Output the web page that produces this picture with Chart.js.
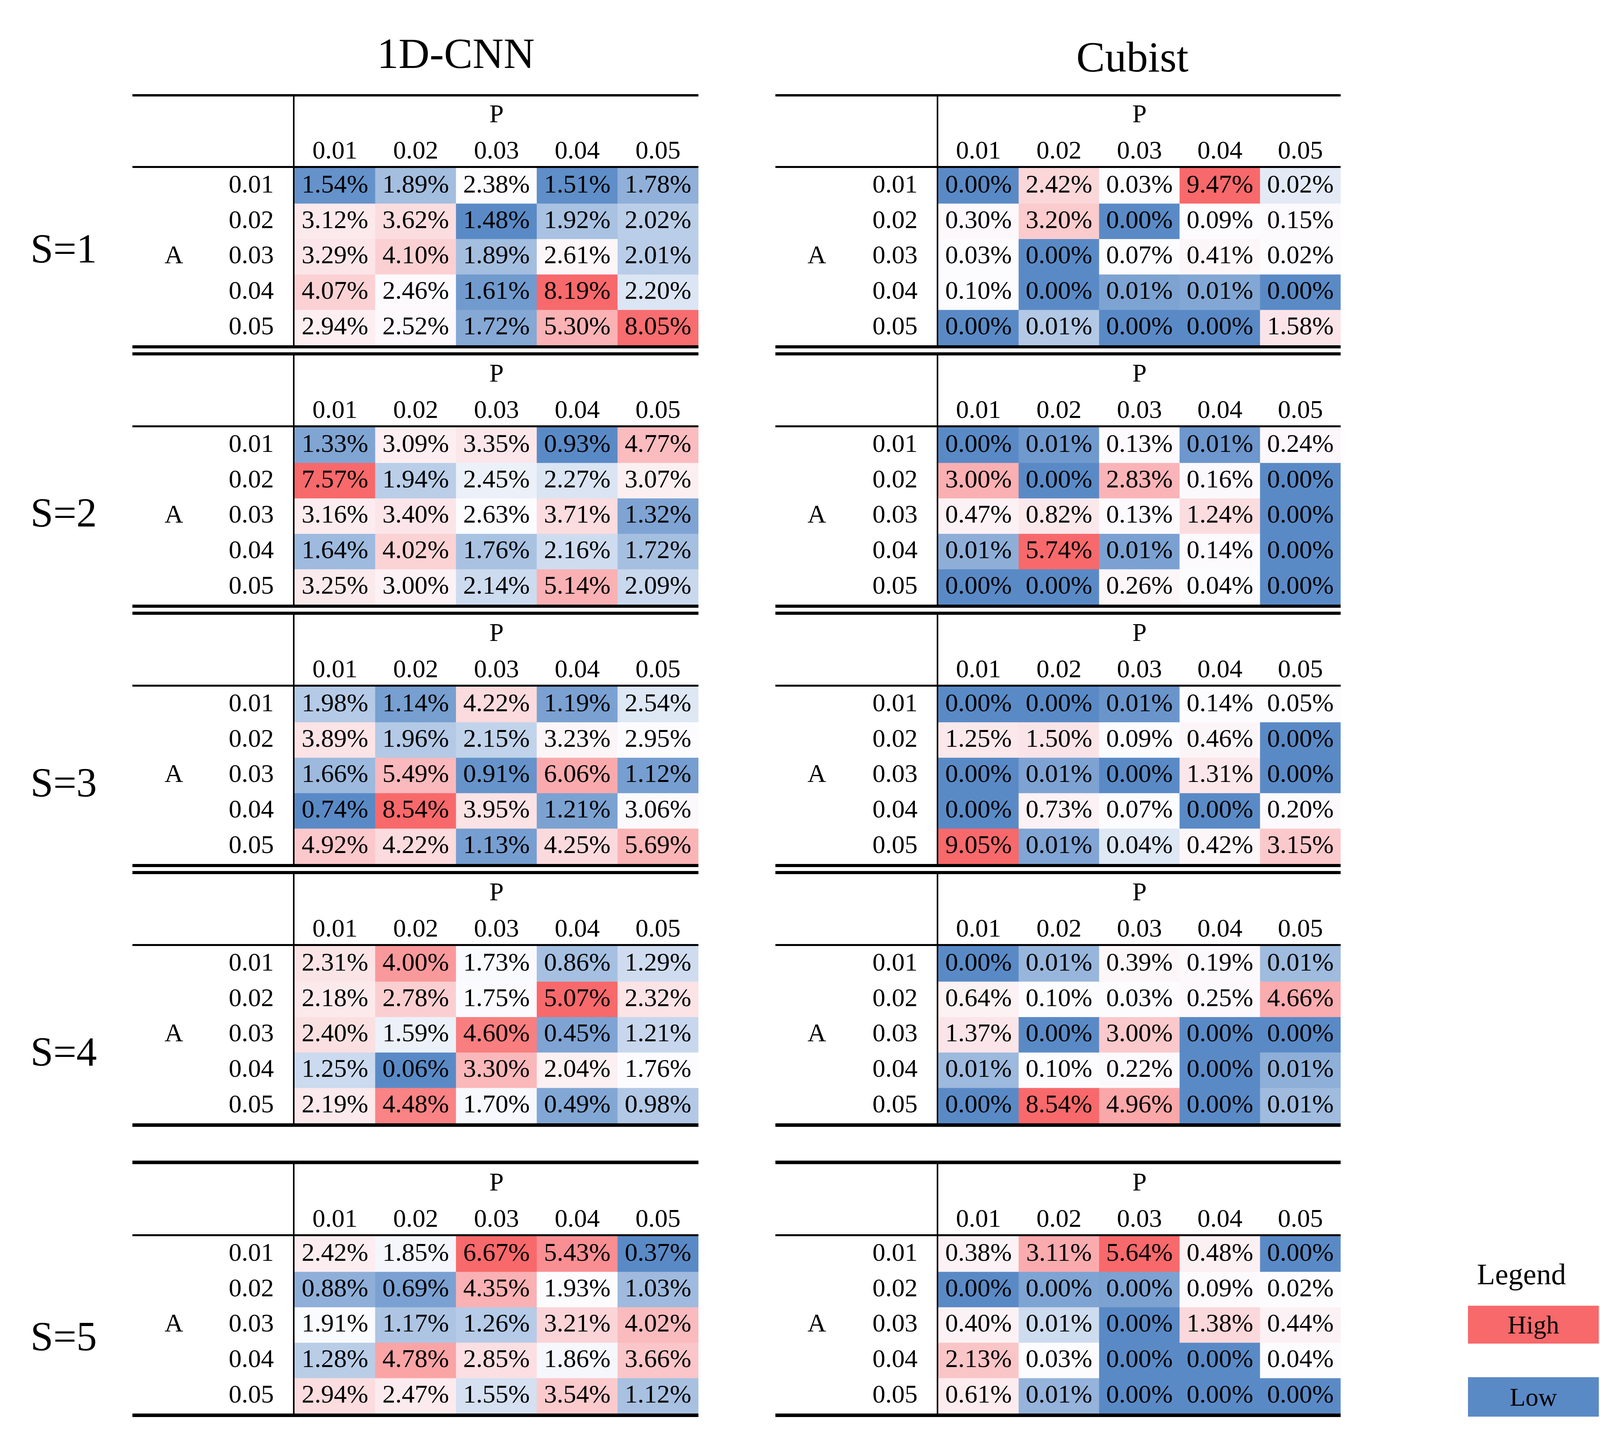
<!DOCTYPE html>
<html>
<head>
<meta charset="utf-8">
<script src="https://cdn.jsdelivr.net/npm/chart.js@4.4.0/dist/chart.umd.min.js"></script>
<style>
body{margin:0;background:#fff;width:4129px;height:3674px;position:relative;overflow:hidden;font-family:"Liberation Serif","Times New Roman",serif;color:#000}
canvas{position:absolute}
.lbl{position:absolute;white-space:nowrap;line-height:1}
.box{position:absolute;display:flex;align-items:center;justify-content:center;font-size:66px;line-height:1}
</style>
</head>
<body>
<script>
// axis ticks
const P_TICKS = ['0.01', '0.02', '0.03', '0.04', '0.05'];
const A_TICKS = ['0.01', '0.02', '0.03', '0.04', '0.05'];
const S_LABELS = ['S=1', 'S=2', 'S=3', 'S=4', 'S=5'];
const MODELS = ['1D-CNN', 'Cubist'];

// 1D-CNN, rows = A, columns = P (values in %)
const cnn_s1 = [[1.54,1.89,2.38,1.51,1.78],[3.12,3.62,1.48,1.92,2.02],[3.29,4.10,1.89,2.61,2.01],[4.07,2.46,1.61,8.19,2.20],[2.94,2.52,1.72,5.30,8.05]];
const cnn_s2 = [[1.33,3.09,3.35,0.93,4.77],[7.57,1.94,2.45,2.27,3.07],[3.16,3.40,2.63,3.71,1.32],[1.64,4.02,1.76,2.16,1.72],[3.25,3.00,2.14,5.14,2.09]];
const cnn_s3 = [[1.98,1.14,4.22,1.19,2.54],[3.89,1.96,2.15,3.23,2.95],[1.66,5.49,0.91,6.06,1.12],[0.74,8.54,3.95,1.21,3.06],[4.92,4.22,1.13,4.25,5.69]];
const cnn_s4 = [[2.31,4.00,1.73,0.86,1.29],[2.18,2.78,1.75,5.07,2.32],[2.40,1.59,4.60,0.45,1.21],[1.25,0.06,3.30,2.04,1.76],[2.19,4.48,1.70,0.49,0.98]];
const cnn_s5 = [[2.42,1.85,6.67,5.43,0.37],[0.88,0.69,4.35,1.93,1.03],[1.91,1.17,1.26,3.21,4.02],[1.28,4.78,2.85,1.86,3.66],[2.94,2.47,1.55,3.54,1.12]];

// Cubist (tiny values estimated beyond the printed 2 decimals from the cell shading)
const cub_s1 = [[0.00,2.42,0.03,9.47,0.0203],[0.30,3.20,0.00,0.09,0.15],[0.03,0.00,0.07,0.41,0.024],[0.10,0.00,0.0052,0.006,0.00],[0.00,0.013,0.00,0.00,1.58]];
const cub_s2 = [[0.00,0.006,0.13,0.0052,0.24],[3.00,0.00,2.83,0.16,0.00],[0.47,0.82,0.13,1.24,0.00],[0.014,5.74,0.009,0.14,0.00],[0.00,0.00,0.26,0.044,0.00]];
const cub_s3 = [[0.00,0.00,0.0052,0.14,0.054],[1.25,1.50,0.09,0.46,0.00],[0.00,0.012,0.00,1.31,0.00],[0.00,0.73,0.07,0.00,0.20],[9.05,0.013,0.044,0.42,3.15]];
const cub_s4 = [[0.00,0.013,0.39,0.19,0.0145],[0.64,0.10,0.034,0.25,4.66],[1.37,0.00,3.00,0.00,0.00],[0.014,0.10,0.22,0.00,0.011],[0.00,8.54,4.96,0.00,0.0145]];
const cub_s5 = [[0.38,3.11,5.64,0.48,0.00],[0.00,0.0036,0.0034,0.09,0.016],[0.40,0.0115,0.00,1.38,0.44],[2.13,0.03,0.00,0.00,0.04],[0.61,0.0058,0.00,0.00,0.00]];

const CNN = [cnn_s1, cnn_s2, cnn_s3, cnn_s4, cnn_s5];
const CUB = [cub_s1, cub_s2, cub_s3, cub_s4, cub_s5];

// layout (page pixels)
const ROWS = [
  {cellTop: 430,  topY: 244,  topW: 6, botW: 8, sY: 636},
  {cellTop: 1094, topY: 906,  topW: 8, botW: 8, sY: 1312},
  {cellTop: 1758, topY: 1570, topW: 8, botW: 8, sY: 2003},
  {cellTop: 2422, topY: 2234, topW: 8, botW: 9, sY: 2692},
  {cellTop: 3165, topY: 2976, topW: 9, botW: 9, sY: 3421}
];
const COLS = [
  {left: 339,  cellLeft: 754,  right: 1788, titleX: 1167, titleY: 137},
  {left: 1985, cellLeft: 2402, right: 3432, titleX: 2899, titleY: 146}
];
const CELL_H = 454;
const FONT = {family: "'Liberation Serif', 'Times New Roman', serif", size: 66};
const TICK_FONT = {family: FONT.family, size: 66, lineHeight: 1};

const LOW = [90,138,198], MID = [252,252,255], HIGH = [248,105,107];

mix = (a, b, t) => 'rgb(' + a.map((v, i) => Math.round(v + (b[i] - v) * t)).join(',') + ')';

// 3-colour scale: min blue, median white, max red
colourScale = (grid) => {
  const all = grid.flat().slice().sort((a, b) => a - b);
  const lo = all[0], hi = all[all.length - 1];
  const mid = all[Math.floor(all.length / 2)];
  return v => {
    if (v <= mid) return mix(LOW, MID, mid === lo ? 0 : (v - lo) / (mid - lo));
    return mix(MID, HIGH, (v - mid) / (hi - mid));
  };
}

const tablePlugin = {
  id: 'table',
  afterDatasetsDraw(chart) {
    const ctx = chart.ctx;
    ctx.save();
    ctx.font = FONT.size + 'px ' + FONT.family;
    ctx.fillStyle = '#000';
    ctx.textAlign = 'center';
    ctx.textBaseline = 'middle';
    chart.data.datasets.forEach((ds, i) => {
      chart.getDatasetMeta(i).data.forEach((bar, j) => {
        const p = bar.getProps(['x', 'y', 'base'], true);
        ctx.fillText(ds.values[j].toFixed(2) + '%', p.x, (p.y + p.base) / 2);
      });
    });
    ctx.restore();
  },
  afterDraw(chart, args, opts) {
    const ctx = chart.ctx, ca = chart.chartArea;
    const x0 = opts.left;
    ctx.save();
    ctx.strokeStyle = '#000';
    const hline = (y, w) => {
      ctx.lineWidth = w;
      ctx.beginPath(); ctx.moveTo(x0, y); ctx.lineTo(ca.right, y); ctx.stroke();
    };
    hline(opts.topY, opts.topW);
    hline(ca.top - 2.5, 5);
    hline(ca.bottom + opts.botW / 2, opts.botW);
    ctx.lineWidth = 4;
    ctx.beginPath(); ctx.moveTo(ca.left - 2, opts.topY); ctx.lineTo(ca.left - 2, ca.bottom + opts.botW); ctx.stroke();
    ctx.font = FONT.size + 'px ' + FONT.family;
    ctx.fillStyle = '#000';
    ctx.textAlign = 'center';
    ctx.textBaseline = 'middle';
    ctx.fillText('A', x0 + 106, chart.scales.y.getPixelForValue(2.5));
    ctx.restore();
  }
};

makePanel = (grid, r, c) => {
  const R = ROWS[r], C = COLS[c];
  const top = R.topY - 10, left = C.left - 10;
  const w = C.right + 10 - left, h = R.cellTop + CELL_H + 20 - top;
  const cv = document.createElement('canvas');
  cv.width = w; cv.height = h;
  cv.style.left = left + 'px'; cv.style.top = top + 'px';
  document.body.appendChild(cv);
  const colour = colourScale(grid);
  new Chart(cv, {
    type: 'bar',
    data: {
      labels: P_TICKS,
      datasets: grid.map((row, i) => ({
        data: row.map(() => [i, i + 1]),
        values: row,
        backgroundColor: row.map(colour),
        borderWidth: 0,
        grouped: false,
        barPercentage: 1,
        categoryPercentage: 1
      }))
    },
    options: {
      responsive: false,
      animation: false,
      devicePixelRatio: 1,
      layout: {padding: {left: 10, right: 10, top: 10, bottom: 20}},
      plugins: {
        legend: {display: false},
        tooltip: {enabled: false},
        table: {left: 10, topY: 10, topW: R.topW, botW: R.botW}
      },
      scales: {
        x: {
          position: 'top',
          grid: {display: false},
          border: {display: false},
          ticks: {font: TICK_FONT, color: '#000', padding: 0, maxRotation: 0, autoSkip: false},
          title: {display: true, text: 'P', font: FONT, color: '#000',
                  padding: {top: R.cellTop - 134 - R.topY - 40, bottom: 0}},
          afterFit: s => {
            s.height = R.cellTop - R.topY;
            s.paddingLeft = 0; s.paddingRight = 0;
          }
        },
        y: {
          min: 0, max: 5, reverse: true,
          grid: {display: false},
          border: {display: false},
          afterBuildTicks: s => { s.ticks = A_TICKS.map((t, i) => ({value: i + 0.5})); },
          ticks: {font: TICK_FONT, color: '#000', padding: 45, autoSkip: false, callback: (v, i) => A_TICKS[i]},
          afterFit: s => {
            s.width = C.cellLeft - C.left;
            s.paddingTop = 0; s.paddingBottom = 0;
          }
        }
      }
    },
    plugins: [tablePlugin]
  });
}

addText = (txt, x, cy, size, centre) => {
  const d = document.createElement('div');
  d.className = 'lbl';
  d.textContent = txt;
  d.style.fontSize = size + 'px';
  d.style.left = x + 'px';
  d.style.top = (cy - size / 2) + 'px';
  if (centre) d.style.transform = 'translateX(-50%)';
  document.body.appendChild(d);
}

addBox = (txt, x, y, w, h, bg) => {
  const d = document.createElement('div');
  d.className = 'box';
  d.textContent = txt;
  Object.assign(d.style, {left: x + 'px', top: y + 'px', width: w + 'px', height: h + 'px', background: bg});
  document.body.appendChild(d);
}

draw = () => {
  MODELS.forEach((m, c) => addText(m, COLS[c].titleX, COLS[c].titleY, 110, true));
  S_LABELS.forEach((s, r) => addText(s, 78, ROWS[r].sY, 105, false));
  for (let r = 0; r < 5; r++) {
    makePanel(CNN[r], r, 0);
    makePanel(CUB[r], r, 1);
  }
  addText('Legend', 3895, 3262, 76, true);
  addBox('High', 3758, 3343, 335, 97, mix(MID, HIGH, 1));
  addBox('Low', 3758, 3526, 335, 101, mix(LOW, MID, 0));
}

document.fonts.load('66px "Liberation Serif"').then(draw, draw);
</script>
</body>
</html>
